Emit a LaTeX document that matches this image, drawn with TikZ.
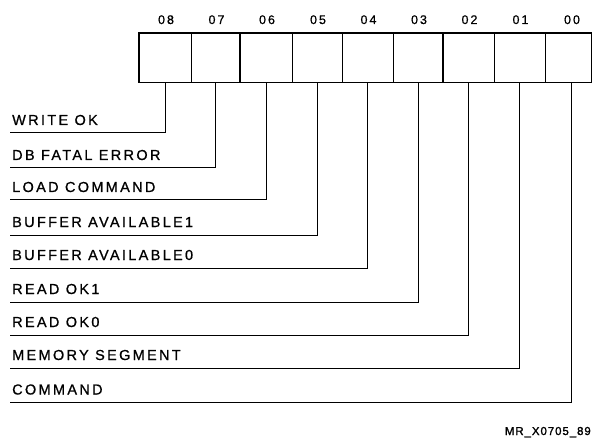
\documentclass[tikz,border=0pt]{standalone}
\usepackage{fontspec}
\setmainfont{Liberation Sans}
\newfontfamily\lblfont[LetterSpace=16,FakeBold=0.8]{Liberation Sans}
\newfontfamily\numfont[LetterSpace=16,FakeBold=0.8]{Liberation Sans}
\newfontfamily\figfont[LetterSpace=8,FakeBold=1.5]{Liberation Sans}
\begin{document}
\begin{tikzpicture}[x=1pt,y=-1pt,
  cellbox/.style={draw=none,minimum height=50pt,inner sep=0pt,outer sep=0pt},
  bitnum/.style={font=\numfont\fontsize{12.5}{14}\selectfont,inner sep=0pt,anchor=base},
  sig/.style={font=\lblfont\fontsize{14.5}{17}\selectfont,inner sep=0pt,anchor=base west},
  wire/.style={line width=1pt},
  frame/.style={line width=1.8pt},
  thin divider/.style={line width=0.8pt},
  thick divider/.style={line width=1.4pt}]
\useasboundingbox (0,0) rectangle (592,441);
% cells: bit, left, right
\foreach \b/\l/\r in {08/139/191,07/191/240,06/240/292,05/292/342,04/342/393,03/393/443,02/443/494,01/494/545,00/545/597}{
  \node[cellbox,minimum width={\r-\l}] (c\b) at ({(\l+\r)/2},57.5) {};
  \node[bitnum] (n\b) at ({(\l+\r)/2+1},24) {\b};
}
% dividers
\foreach \x in {191,292,342,393,494,545}{\draw[thin divider] (\x,33) -- (\x,82);}
\foreach \x in {240,443}{\draw[thick divider] (\x,33) -- (\x,82);}
\draw[frame] (139,33) rectangle (591.5,82.5);
% signal labels
\foreach \b/\y/\t in {08/133/WRITE OK,07/168/DB FATAL ERROR,06/200/LOAD COMMAND,05/235/BUFFER AVAILABLE1,04/268/BUFFER AVAILABLE0,03/302/READ OK1,02/335/READ OK0,01/368/MEMORY SEGMENT,00/402.5/COMMAND}{
  \node[sig] (t\b) at (12,\y-8) {\t};
  \coordinate (e\b) at (10,\y);
  \draw[wire] (c\b.south) |- (e\b);
}
\node[font=\figfont\fontsize{11.5}{14}\selectfont,anchor=base east,inner sep=0pt] (fig) at (591,435) {MR\_X0705\_89};
\end{tikzpicture}
\end{document}
